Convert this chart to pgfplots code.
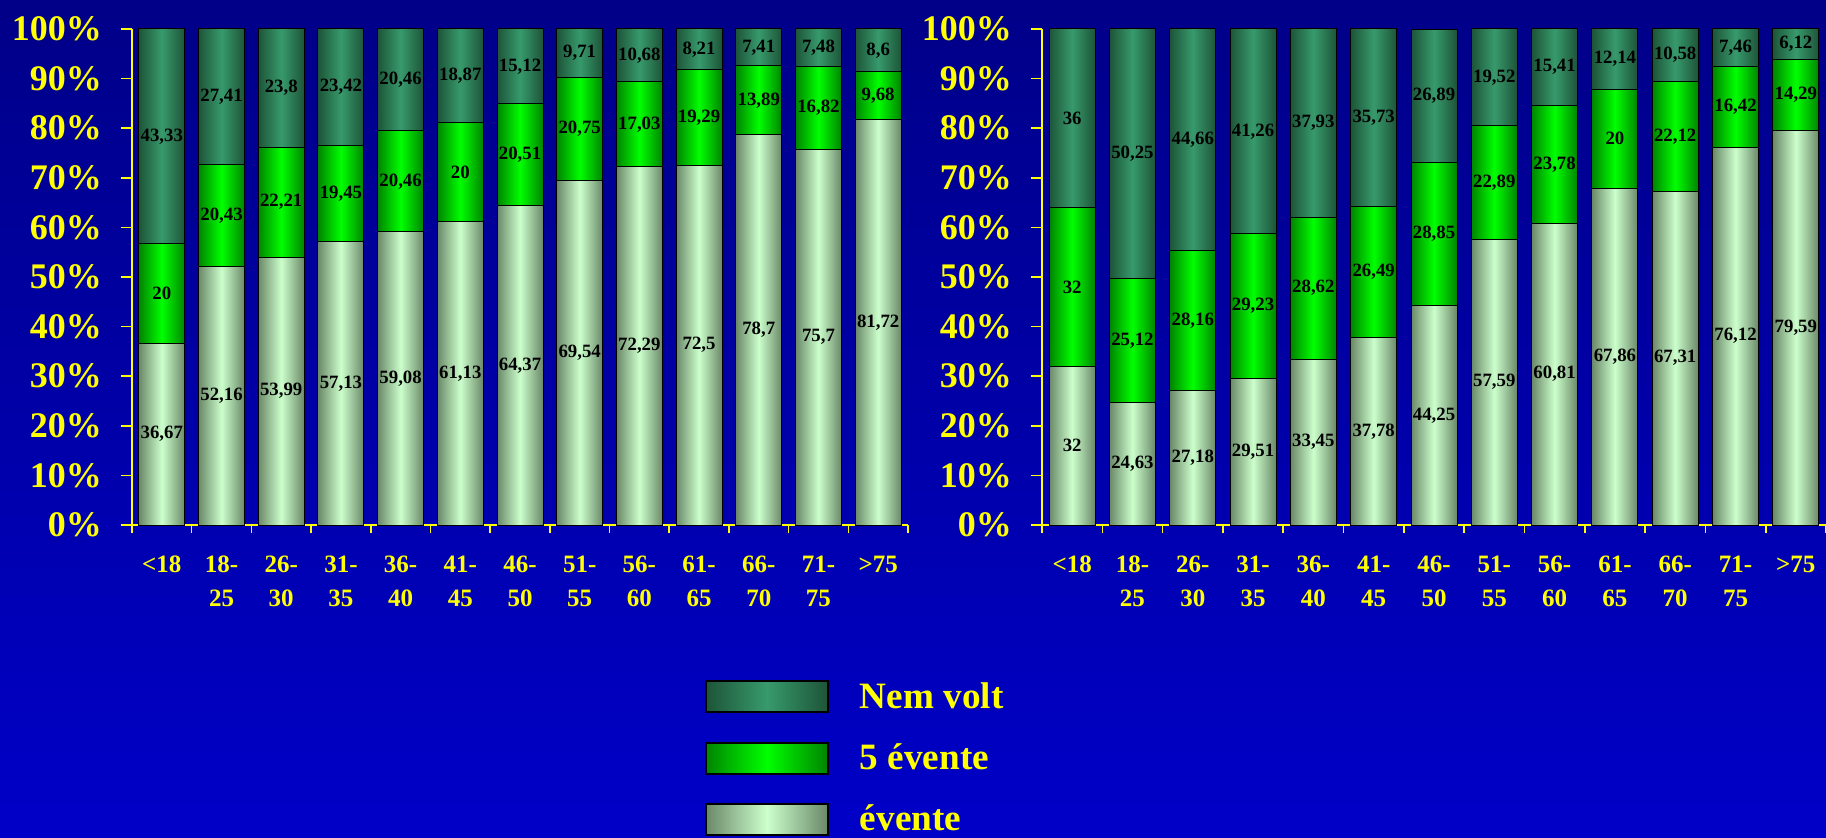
\documentclass[border=0pt]{standalone}
\usepackage{pgfplots}
\pgfplotsset{compat=1.18}
\usepackage{pgfplotstable}
\usepackage{fontspec}
\setmainfont{Liberation Serif}

\definecolor{bgtop}{HTML}{000088}
\definecolor{bgbot}{HTML}{0000C8}
\definecolor{ylab}{HTML}{FFFF00}
\definecolor{nemE}{HTML}{1D5438}
\definecolor{nemC}{HTML}{379A6C}
\definecolor{fiveE}{HTML}{008400}
\definecolor{fiveC}{HTML}{00FF00}
\definecolor{evE}{HTML}{6A8868}
\definecolor{evC}{HTML}{CCFFCC}

% left chart
\pgfplotstableread{
x ev five nem
0 36.67 20 43.33
1 52.16 20.43 27.41
2 53.99 22.21 23.8
3 57.13 19.45 23.42
4 59.08 20.46 20.46
5 61.13 20 18.87
6 64.37 20.51 15.12
7 69.54 20.75 9.71
8 72.29 17.03 10.68
9 72.5 19.29 8.21
10 78.7 13.89 7.41
11 75.7 16.82 7.48
12 81.72 9.68 8.6
}\leftdata

% right chart
\pgfplotstableread{
x ev five nem
0 32 32 36
1 24.63 25.12 50.25
2 27.18 28.16 44.66
3 29.51 29.23 41.26
4 33.45 28.62 37.93
5 37.78 26.49 35.73
6 44.25 28.85 26.89
7 57.59 22.89 19.52
8 60.81 23.78 15.41
9 67.86 20 12.14
10 67.31 22.12 10.58
11 76.12 16.42 7.46
12 79.59 14.29 6.12
}\rightdata

\pgfplotsset{
  evbar/.style={draw=black, line width=0.5pt, left color=evE, right color=evE, middle color=evC},
  fivebar/.style={draw=black, line width=0.5pt, left color=fiveE, right color=fiveE, middle color=fiveC},
  nembar/.style={draw=black, line width=0.5pt, left color=nemE, right color=nemE, middle color=nemC},
  geom/.style={
    scale only axis, height=248pt, anchor=south west,
    xmin=-0.5, xmax=12.5, ymin=0, ymax=100,
  },
  barchart/.style={
    geom,
    ybar, bar width=23pt, bar shift=0pt,
    axis x line=bottom, axis y line=left,
    axis line style={ylab, line width=0.8pt, -},
    ytick={0,10,...,100},
    yticklabels={0\%,10\%,20\%,30\%,40\%,50\%,60\%,70\%,80\%,90\%,100\%},
    xtick={0,...,12},
    xticklabels={{<18},{18-\\25},{26-\\30},{31-\\35},{36-\\40},{41-\\45},{46-\\50},{51-\\55},{56-\\60},{61-\\65},{66-\\70},{71-\\75},{>75}},
    minor xtick={-0.5,0.5,...,12.5},
    major x tick style={draw=none},
    minor x tick style={ylab, line width=0.8pt},
    y tick style={ylab, line width=0.8pt},
    tick align=outside,
    major tick length=5.5pt, minor tick length=4pt,
    yticklabel style={text=ylab, xshift=-6pt, font=\fontsize{18}{20}\selectfont\bfseries},
    xticklabel style={text=ylab, align=center, anchor=north, yshift=-6.4pt,
      font=\fontsize{12.5}{17}\selectfont\bfseries},
  },
  labelaxis/.style={
    geom, hide axis, clip=false,
    nodes near coords, point meta=explicit,
    every node near coord/.append style={anchor=center, text=black,
      font=\fontsize{9.4}{10}\selectfont\bfseries},
    /pgf/number format/use comma,
    /pgf/number format/assume math mode=true,
  },
}

% one bar per plot so that each bar gets its own shading;
% segments are drawn from 0 to their cumulative top, the topmost first
\newcommand\drawbars[1]{%
  \pgfplotsinvokeforeach{0,...,12}{
    \addplot[nembar, restrict x to domain=##1:##1] table[x=x, y expr=\thisrow{ev}+\thisrow{five}+\thisrow{nem}]{#1};
    \addplot[fivebar, restrict x to domain=##1:##1] table[x=x, y expr=\thisrow{ev}+\thisrow{five}]{#1};
    \addplot[evbar, restrict x to domain=##1:##1] table[x=x, y=ev]{#1};
  }%
}
\newcommand\drawlabels[1]{%
  \addplot[only marks, mark=none, forget plot] table[x=x, y expr=\thisrow{ev}/2, meta=ev]{#1};
  \addplot[only marks, mark=none, forget plot] table[x=x, y expr=\thisrow{ev}+\thisrow{five}/2, meta=five]{#1};
  \addplot[only marks, mark=none, forget plot] table[x=x, y expr=\thisrow{ev}+\thisrow{five}+\thisrow{nem}/2, meta=nem]{#1};
}

\begin{document}
\begin{tikzpicture}
\shade[top color=bgtop, bottom color=bgbot] (0,0) rectangle (913pt,418.5pt);

% left chart
\begin{axis}[barchart, at={(66pt,156pt)}, width=388pt]
\drawbars{\leftdata}
\end{axis}
\begin{axis}[labelaxis, at={(66pt,156pt)}, width=388pt,
    legend image code/.code={\draw[#1, line width=1pt] (0pt,-7.75pt) rectangle (61pt,7.75pt);},
    legend style={at={(rel axis cs:0.73,-0.30)}, anchor=north west, draw=none, fill=none,
      text=ylab, font=\fontsize{18.6}{20}\selectfont\bfseries, row sep=12.3pt,
      /tikz/every odd column/.append style={column sep=13.5pt}},
    legend cell align=left]
\addlegendimage{nembar}
\addlegendentry{Nem volt}
\addlegendimage{fivebar}
\addlegendentry{5 évente}
\addlegendimage{evbar}
\addlegendentry{évente}
\drawlabels{\leftdata}
\end{axis}

% right chart
\begin{axis}[barchart, at={(521pt,156pt)}, width=392pt]
\drawbars{\rightdata}
\end{axis}
\begin{axis}[labelaxis, at={(521pt,156pt)}, width=392pt]
\drawlabels{\rightdata}
\end{axis}

\pgfresetboundingbox
\useasboundingbox (0,0) rectangle (913pt,418.5pt);
\end{tikzpicture}
\end{document}
